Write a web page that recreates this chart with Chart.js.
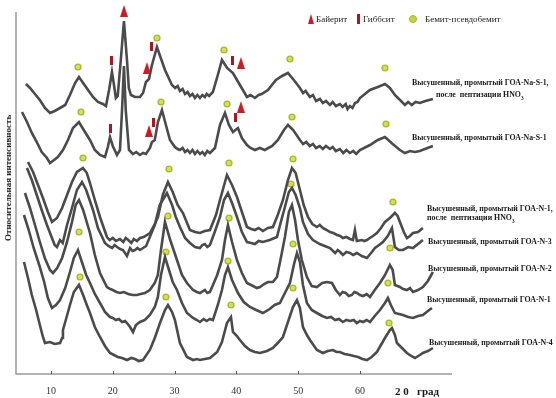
<!DOCTYPE html>
<html>
<head>
<meta charset="utf-8">
<script src="https://cdn.jsdelivr.net/npm/chart.js@4.4.1/dist/chart.umd.min.js"></script>
<style>
  html, body { margin: 0; padding: 0; background: #ffffff; }
  #wrap { position: relative; width: 556px; height: 398px; overflow: hidden; }
  #xrd { position: absolute; left: 0; top: 0; }
  .lbl {
    position: absolute;
    font-family: "Liberation Serif", "Times New Roman", serif;
    font-weight: bold;
    font-size: 9px;
    color: #1a1a1a;
    white-space: nowrap;
    line-height: 10px;
    transform-origin: 0 50%;
    transform: translateY(-50%) scaleX(0.87);
  }
  .leg {
    position: absolute;
    font-family: "Liberation Serif", "Times New Roman", serif;
    font-size: 9px;
    color: #222;
    white-space: nowrap;
    line-height: 10px;
    top: 14px;
  }
  .tri { position: absolute; width: 0; height: 0; border-left: 3px solid transparent; border-right: 3px solid transparent; border-bottom: 10px solid #cf1a24; }
  .bar { position: absolute; width: 3px; height: 10px; background: #b5121b; }
  .dot { position: absolute; width: 6px; height: 6px; border-radius: 50%; background: #c5d43c; border: 1px solid #a9b928; }
  #ytitle {
    position: absolute;
    left: 8px; top: 178px;
    transform: translate(-50%, -50%) rotate(-90deg);
    font-family: "Liberation Serif", "Times New Roman", serif;
    font-weight: bold;
    font-size: 9px;
    color: #1a1a1a;
    white-space: nowrap;
  }
  #xtitle {
    position: absolute;
    left: 395px; top: 385px;
    font-family: "Liberation Serif", "Times New Roman", serif;
    font-weight: bold;
    font-size: 11px;
    color: #1a1a1a;
    white-space: pre;
  }
</style>
</head>
<body>
<div id="wrap">
  <canvas id="xrd" width="556" height="398"></canvas>

  <div class="tri" style="left:308px; top:14px;"></div>
  <div class="leg" style="left:316px;">Байерит</div>
  <div class="bar" style="left:357px; top:14px;"></div>
  <div class="leg" style="left:363px;">Гиббсит</div>
  <div class="dot" style="left:409px; top:15px;"></div>
  <div class="leg" style="left:425px;">Бемит-псевдобемит</div>

  <div class="lbl" style="left:412px; top:82px;">Высушенный, промытый ГОА-Na-S-1,</div>
  <div class="lbl" style="left:436px; top:96px;">после&nbsp; пептизации HNO<sub style="font-size:6px;">3</sub></div>
  <div class="lbl" style="left:412px; top:137px;">Высушенный, промытый ГОА-Na-S-1</div>
  <div class="lbl" style="left:427px; top:208px;">Высушенный, промытый ГОА-N-1,</div>
  <div class="lbl" style="left:427px; top:219px;">после&nbsp; пептизации HNO<sub style="font-size:6px;">3</sub></div>
  <div class="lbl" style="left:428px; top:241px;">Высушенный, промытый ГОА-N-3</div>
  <div class="lbl" style="left:428px; top:268px;">Высушенный, промытый ГОА-N-2</div>
  <div class="lbl" style="left:427px; top:299px;">Высушенный, промытый ГОА-N-1</div>
  <div class="lbl" style="left:429px; top:342px;">Высушенный, промытый ГОА-N-4</div>

  <div id="ytitle">Относительная интенсивность</div>
  <div id="xtitle">2 0   град</div>
</div>

<script>
// 2θ ticks
const tickValues = [10, 20, 30, 40, 50, 60];

// дифрактограммы: [2θ, интенсивность (усл. ед., со сдвигом)]
const naS1Pept = [
  [5.95, 290], [6.6, 286], [7.41, 280], [8.2, 274], [9.03, 266], [9.84, 261], [10.6, 263],
  [11.46, 266], [12.3, 269], [13.07, 279], [13.9, 291], [14.53, 297], [15.2, 291], [16.0, 284],
  [16.8, 277], [17.6, 272], [18.4, 270], [18.9, 268], [19.4, 284], [19.87, 302], [20.2, 289],
  [20.5, 276], [20.8, 278], [21.3, 314], [21.81, 353], [22.3, 314], [22.6, 286], [22.94, 279],
  [23.6, 277], [24.4, 277], [24.9, 281], [25.37, 292], [25.86, 295], [26.3, 308], [27.15, 327],
  [27.6, 319], [28.45, 304], [29.58, 289], [30.1, 286], [30.5, 288], [30.87, 283], [31.3, 285],
  [31.7, 280], [32.1, 282], [32.49, 278], [32.9, 280], [33.3, 276], [33.7, 279], [34.11, 276],
  [34.5, 279], [34.9, 277], [35.2, 280], [35.6, 278], [36.2, 282], [37.0, 299], [37.67, 314],
  [38.5, 306], [39.45, 301], [40.58, 289], [41.72, 277], [42.3, 279], [43.01, 276], [43.6, 279],
  [44.1, 280], [45.11, 284], [46.41, 294], [47.4, 298], [48.35, 301], [49.3, 294], [50.29, 286],
  [50.8, 281], [51.2, 283], [51.9, 277], [52.4, 279], [52.9, 273], [53.53, 275], [54.0, 271],
  [54.5, 273], [55.15, 269], [55.6, 272], [56.1, 268], [56.76, 270], [57.2, 267], [57.7, 270],
  [58.0, 265], [58.38, 268], [58.8, 266], [59.2, 271], [59.6, 272], [60.0, 276], [61.62, 284],
  [62.9, 287], [64.05, 290], [64.85, 286], [65.66, 279], [67.28, 269], [67.8, 272], [68.4, 269],
  [69.0, 272], [69.71, 271], [70.6, 273], [71.81, 275]
];

const naS1 = [
  [5.31, 262], [6.12, 252], [6.9, 241], [7.7, 232], [8.5, 222], [9.35, 216], [9.84, 211],
  [10.5, 214], [11.1, 217], [11.94, 224], [12.75, 234], [13.56, 246], [14.53, 252], [15.3, 244],
  [16.31, 234], [17.1, 224], [17.93, 219], [18.74, 217], [19.2, 227], [19.55, 237], [20.0, 228],
  [20.68, 219], [21.17, 224], [21.5, 264], [21.81, 308], [22.1, 264], [22.62, 224], [23.27, 220],
  [23.8, 222], [24.4, 219], [24.9, 221], [25.37, 220], [26.02, 226], [26.34, 232], [26.8, 234],
  [27.31, 252], [27.96, 264], [28.6, 249], [29.26, 234], [30.06, 227], [30.5, 225], [30.87, 224],
  [31.3, 226], [31.7, 222], [32.1, 224], [32.49, 221], [32.9, 224], [33.3, 220], [33.7, 223],
  [34.11, 220], [34.5, 222], [34.9, 219], [35.3, 223], [35.73, 221], [36.54, 226], [37.35, 249],
  [38.16, 261], [38.8, 249], [39.45, 242], [40.26, 246], [40.9, 236], [41.72, 229], [42.3, 226],
  [43.01, 224], [43.8, 226], [44.6, 224], [45.8, 228], [46.73, 234], [47.7, 244], [48.35, 249],
  [49.2, 244], [50.29, 234], [50.8, 230], [51.3, 232], [51.9, 228], [52.4, 230], [52.9, 226],
  [53.5, 228], [54.0, 225], [54.5, 228], [55.15, 225], [55.6, 227], [56.1, 223], [56.76, 225],
  [57.3, 221], [57.8, 224], [58.38, 221], [58.9, 223], [59.4, 220], [60.0, 224], [61.62, 229],
  [62.9, 234], [64.05, 237], [65.3, 230], [66.47, 224], [67.28, 221], [68.1, 223], [68.9, 222],
  [69.7, 223], [70.5, 225], [71.81, 228]
];

const n1Pept = [
  [6.28, 212], [7.1, 202], [7.9, 189], [8.7, 176], [9.5, 162], [10.16, 152], [10.97, 156],
  [11.8, 166], [12.6, 179], [13.4, 192], [14.2, 202], [15.18, 206], [15.8, 201], [16.31, 191],
  [17.1, 174], [17.93, 157], [19.06, 137], [19.5, 134], [20.0, 136], [20.5, 133], [21.17, 135],
  [21.7, 132], [22.1, 136], [22.5, 134], [23.0, 131], [23.4, 135], [23.92, 133], [24.4, 136],
  [25.0, 137], [26.02, 141], [26.8, 150], [27.31, 157], [28.1, 179], [28.93, 192], [29.7, 182],
  [30.5, 169], [31.36, 161], [32.49, 144], [33.3, 142], [34.11, 141], [34.9, 143], [35.73, 144],
  [36.7, 159], [37.35, 174], [38.48, 199], [39.3, 189], [40.1, 177], [40.9, 162], [41.72, 147],
  [42.4, 145], [43.0, 144], [43.6, 146], [44.3, 143], [45.1, 146], [45.92, 147], [46.7, 159],
  [47.54, 174], [48.35, 194], [49.0, 206], [49.6, 201], [50.29, 184], [50.9, 169], [51.59, 157],
  [52.3, 150], [53.04, 147], [53.5, 149], [54.0, 146], [54.6, 144], [55.15, 142], [55.7, 141],
  [56.3, 139], [56.8, 138], [57.25, 136], [57.8, 137], [58.4, 135], [58.87, 134], [59.19, 144],
  [59.5, 133], [60.3, 134], [60.7, 133], [61.13, 134], [61.6, 136], [62.1, 138], [62.75, 141],
  [63.4, 146], [64.05, 152], [64.85, 156], [65.66, 161], [66.1, 158], [66.47, 152], [67.1, 142],
  [67.61, 136], [68.1, 138], [68.58, 141], [69.39, 142], [70.19, 146]
];

const n3 = [
  [6.12, 206], [6.9, 194], [7.7, 179], [8.5, 164], [9.35, 149], [10.16, 136], [10.6, 129],
  [10.97, 127], [11.46, 134], [11.9, 131], [12.6, 149], [13.4, 166], [14.2, 184], [15.02, 192],
  [15.7, 184], [16.8, 164], [17.6, 146], [18.74, 131], [19.3, 128], [19.9, 126], [20.3, 129],
  [20.7, 127], [21.2, 125], [21.65, 124], [22.3, 118], [22.8, 126], [23.2, 123], [23.6, 124],
  [24.0, 126], [24.4, 124], [25.4, 128], [26.0, 137], [26.8, 149], [27.6, 169], [28.77, 181],
  [29.6, 169], [30.2, 157], [30.87, 147], [31.7, 136], [32.49, 131], [33.3, 127], [34.11, 126],
  [34.5, 129], [34.9, 130], [35.3, 127], [35.73, 129], [36.5, 142], [37.35, 157], [38.0, 174],
  [38.64, 181], [39.3, 171], [40.1, 157], [40.9, 142], [41.72, 132], [42.4, 131], [43.0, 130],
  [43.6, 133], [44.3, 132], [45.4, 134], [46.57, 137], [47.2, 152], [47.86, 167], [48.5, 182],
  [49.0, 186], [49.6, 179], [50.29, 166], [50.78, 152], [51.6, 140], [52.39, 134], [53.5, 130],
  [54.3, 128], [55.15, 126], [56.0, 121], [56.4, 124], [56.8, 122], [57.25, 119], [57.8, 122],
  [58.4, 121], [58.9, 119], [59.51, 121], [60.3, 118], [61.13, 116], [61.8, 121], [62.43, 126],
  [63.1, 129], [63.72, 132], [64.5, 138], [65.18, 146], [65.66, 127], [66.3, 124], [66.96, 124],
  [67.8, 127], [68.58, 126], [69.4, 130], [70.19, 134]
];

const n2 = [
  [5.79, 181], [6.6, 166], [7.41, 149], [8.2, 132], [9.0, 116], [9.84, 104], [10.32, 101],
  [11.0, 106], [11.8, 116], [12.6, 132], [13.4, 152], [14.0, 169], [14.53, 174], [15.2, 164],
  [16.31, 141], [17.1, 119], [17.93, 101], [19.06, 87], [19.6, 85], [20.0, 84], [20.6, 82],
  [21.17, 81], [21.8, 82], [22.5, 80], [23.2, 79], [23.92, 79], [24.5, 80], [25.2, 81],
  [26.0, 84], [26.8, 91], [27.3, 99], [27.8, 124], [28.45, 152], [29.3, 134], [30.39, 114],
  [31.2, 99], [32.01, 91], [33.0, 84], [33.6, 82], [34.11, 81], [34.9, 84], [35.3, 81],
  [35.73, 82], [36.9, 99], [37.67, 114], [38.16, 134], [38.64, 149], [39.3, 132], [40.1, 114],
  [40.9, 101], [41.72, 91], [42.7, 88], [43.3, 86], [43.82, 87], [44.5, 90], [45.11, 92],
  [45.9, 92], [46.57, 97], [47.2, 116], [47.86, 137], [48.5, 162], [49.0, 169], [49.5, 154],
  [49.97, 134], [50.6, 114], [51.42, 97], [52.2, 88], [53.04, 87], [53.9, 91], [54.66, 92],
  [55.47, 91], [56.1, 84], [56.76, 79], [57.2, 82], [57.7, 81], [58.2, 78], [58.7, 79],
  [59.1, 82], [59.51, 81], [60.0, 79], [60.5, 78], [61.1, 80], [61.62, 77], [62.4, 84],
  [63.24, 91], [64.05, 99], [64.85, 109], [65.3, 104], [65.66, 89], [66.47, 87], [67.0, 85],
  [67.6, 84], [68.1, 86], [68.58, 82], [69.4, 84], [70.19, 87], [71.0, 93], [71.81, 102]
];

const n1 = [
  [5.63, 159], [6.4, 144], [7.2, 126], [8.1, 109], [8.9, 92], [9.5, 76], [10.16, 66],
  [10.8, 69], [11.46, 74], [12.3, 86], [13.07, 102], [13.7, 116], [14.37, 124], [15.0, 112],
  [15.7, 99], [16.31, 91], [17.1, 80], [17.93, 71], [18.74, 62], [19.55, 57], [20.0, 56],
  [20.5, 54], [21.0, 55], [21.5, 52], [22.0, 53], [22.3, 51], [22.8, 47], [23.27, 42],
  [23.75, 49], [24.4, 52], [25.2, 54], [26.0, 59], [26.8, 67], [27.3, 77], [27.8, 99],
  [28.45, 117], [29.1, 104], [29.7, 92], [30.39, 84], [31.2, 71], [32.01, 61], [33.0, 56],
  [33.6, 54], [34.11, 52], [34.7, 55], [35.2, 53], [35.7, 55], [36.21, 54], [37.0, 69],
  [37.67, 84], [38.16, 99], [38.64, 107], [39.3, 94], [40.26, 81], [41.2, 72], [42.2, 67],
  [43.2, 64], [44.3, 61], [45.4, 65], [46.2, 69], [47.05, 71], [47.86, 81], [48.67, 91],
  [49.3, 109], [49.81, 121], [50.29, 112], [50.78, 89], [51.42, 71], [52.2, 64], [53.04, 61],
  [53.9, 58], [54.66, 56], [55.3, 57], [56.0, 54], [56.6, 55], [57.25, 52], [57.8, 54],
  [58.4, 53], [59.0, 54], [59.51, 51], [60.0, 53], [60.5, 52], [61.1, 54], [61.62, 52],
  [62.4, 58], [63.24, 64], [64.05, 71], [64.53, 76], [65.0, 69], [65.66, 61], [66.3, 60],
  [66.96, 59], [67.8, 57], [68.58, 56], [69.4, 58], [70.19, 59], [71.0, 63], [71.65, 66]
];

const n4 = [
  [5.63, 112], [6.28, 96], [6.9, 79], [7.6, 64], [8.2, 49], [8.7, 37], [9.03, 31],
  [9.84, 32], [10.6, 30], [11.46, 31], [11.8, 36], [11.94, 44], [12.4, 54], [13.07, 69],
  [13.7, 82], [14.53, 89], [15.2, 79], [15.8, 69], [16.31, 61], [17.1, 47], [17.93, 37],
  [18.74, 28], [19.55, 21], [20.2, 19], [20.8, 17], [21.5, 16], [22.3, 14], [23.0, 16],
  [23.6, 15], [24.2, 13], [24.89, 14], [26.0, 24], [26.8, 36], [27.64, 51], [28.45, 64],
  [28.93, 69], [29.6, 62], [30.06, 54], [30.87, 31], [32.01, 17], [33.0, 14], [33.6, 15],
  [34.1, 14], [34.9, 15], [35.73, 16], [36.9, 22], [37.67, 32], [38.48, 51], [39.13, 57],
  [39.45, 42], [40.1, 38], [40.58, 34], [41.4, 28], [42.2, 24], [43.0, 22], [43.82, 21],
  [44.95, 23], [45.92, 26], [46.7, 31], [47.54, 37], [48.35, 52], [49.16, 67], [49.81, 74],
  [50.29, 66], [50.78, 47], [51.42, 39], [51.91, 34], [53.04, 24], [54.01, 21], [54.8, 23],
  [55.63, 24], [56.2, 22], [56.76, 22], [57.5, 20], [58.38, 19], [59.0, 18], [59.7, 17],
  [60.4, 15], [61.13, 14], [61.9, 17], [62.75, 22], [63.4, 29], [64.05, 36], [64.85, 44],
  [65.18, 46], [65.66, 39], [65.99, 31], [66.8, 26], [67.61, 21], [68.3, 18], [68.9, 16],
  [69.7, 19], [70.19, 21], [71.0, 23], [71.81, 26]
];

// фазовые метки
const bayeriteMarks = [[21.81, 363], [25.53, 306], [40.74, 311], [25.86, 243], [40.74, 267]];
const gibbsiteMarks = [[19.87, 314], [26.34, 328], [39.45, 314], [19.7, 246], [26.67, 252], [39.94, 257]];
const boehmiteMarks = [
  [14.37, 307], [27.15, 336], [38.0, 324], [48.67, 315], [64.05, 306],
  [14.85, 262], [27.8, 272], [38.48, 270], [49.0, 257], [64.2, 250],
  [15.18, 216], [29.1, 205], [38.8, 211], [49.16, 215], [65.34, 172],
  [48.83, 190],
  [14.53, 142], [28.93, 158], [38.8, 156], [49.16, 130], [64.85, 126],
  [14.69, 97], [28.6, 122], [38.64, 113], [49.16, 86], [64.53, 91],
  [28.6, 77], [39.13, 69], [64.7, 51]
];

const curveColor = "#4b4b4b";

// ============================
// значки меток
// ============================
function makeIcon(w, h, draw) {
  const c = document.createElement("canvas");
  c.width = w;
  c.height = h;
  draw(c.getContext("2d"));
  return c;
}

const triIcon = makeIcon(8, 12, (g) => {
  g.fillStyle = "#cf1a24";
  g.beginPath();
  g.moveTo(4, 0);
  g.lineTo(8, 12);
  g.lineTo(0, 12);
  g.closePath();
  g.fill();
});

const barIcon = makeIcon(3, 9, (g) => {
  g.fillStyle = "#b5121b";
  g.fillRect(0, 0, 3, 9);
});

const dotIcon = makeIcon(8, 8, (g) => {
  g.fillStyle = "#a9b928";
  g.beginPath();
  g.arc(4, 4, 3.6, 0, Math.PI * 2);
  g.fill();
  g.fillStyle = "#d4e05a";
  g.beginPath();
  g.arc(4, 4, 2.2, 0, Math.PI * 2);
  g.fill();
});

function curve(data) {
  return {
    data,
    borderColor: curveColor,
    borderWidth: 2.6,
    pointRadius: 0,
    tension: 0,
    fill: false,
  };
}

function marks(data, icon) {
  return {
    data,
    showLine: false,
    pointStyle: icon,
    pointRadius: 4,
    clip: false,
  };
}

// оси рисуем сами: тонкая рамка слева и снизу, короткие засечки вверх
const framePlugin = {
  id: "frame",
  beforeDatasetsDraw(chart) {
    const { ctx, chartArea, scales } = chart;
    ctx.save();
    ctx.strokeStyle = "#9a9a9a";
    ctx.lineWidth = 1.5;
    ctx.beginPath();
    ctx.moveTo(chartArea.left, chartArea.top);
    ctx.lineTo(chartArea.left, chartArea.bottom);
    ctx.lineTo(chartArea.right, chartArea.bottom);
    ctx.stroke();
    ctx.strokeStyle = "#555";
    ctx.lineWidth = 1;
    tickValues.forEach((v) => {
      const x = Math.round(scales.x.getPixelForValue(v)) + 0.5;
      ctx.beginPath();
      ctx.moveTo(x, chartArea.bottom - 3);
      ctx.lineTo(x, chartArea.bottom);
      ctx.stroke();
    });
    ctx.restore();
  },
};

const ctx = document.getElementById("xrd").getContext("2d");

new Chart(ctx, {
  type: "line",
  data: {
    datasets: [
      curve(naS1Pept),
      curve(naS1),
      curve(n1Pept),
      curve(n3),
      curve(n2),
      curve(n1),
      curve(n4),
      marks(bayeriteMarks, triIcon),
      marks(gibbsiteMarks, barIcon),
      marks(boehmiteMarks, dotIcon),
    ],
  },
  options: {
    responsive: false,
    animation: false,
    events: [],
    layout: { padding: { left: 16, right: 104, top: 12, bottom: 0 } },
    plugins: {
      legend: { display: false },
      tooltip: { enabled: false },
    },
    scales: {
      x: {
        type: "linear",
        min: 4.34,
        max: 74.9,
        afterBuildTicks: (axis) => {
          axis.ticks = tickValues.map((v) => ({ value: v }));
        },
        afterFit: (axis) => {
          axis.height = 24;
        },
        grid: { display: false },
        border: { display: false },
        ticks: {
          color: "#333",
          padding: 3,
          maxRotation: 0,
          font: { family: "'Liberation Serif', serif", size: 10 },
        },
      },
      y: {
        display: false,
        min: 0,
        max: 362,
      },
    },
  },
  plugins: [framePlugin],
});
</script>
</body>
</html>
